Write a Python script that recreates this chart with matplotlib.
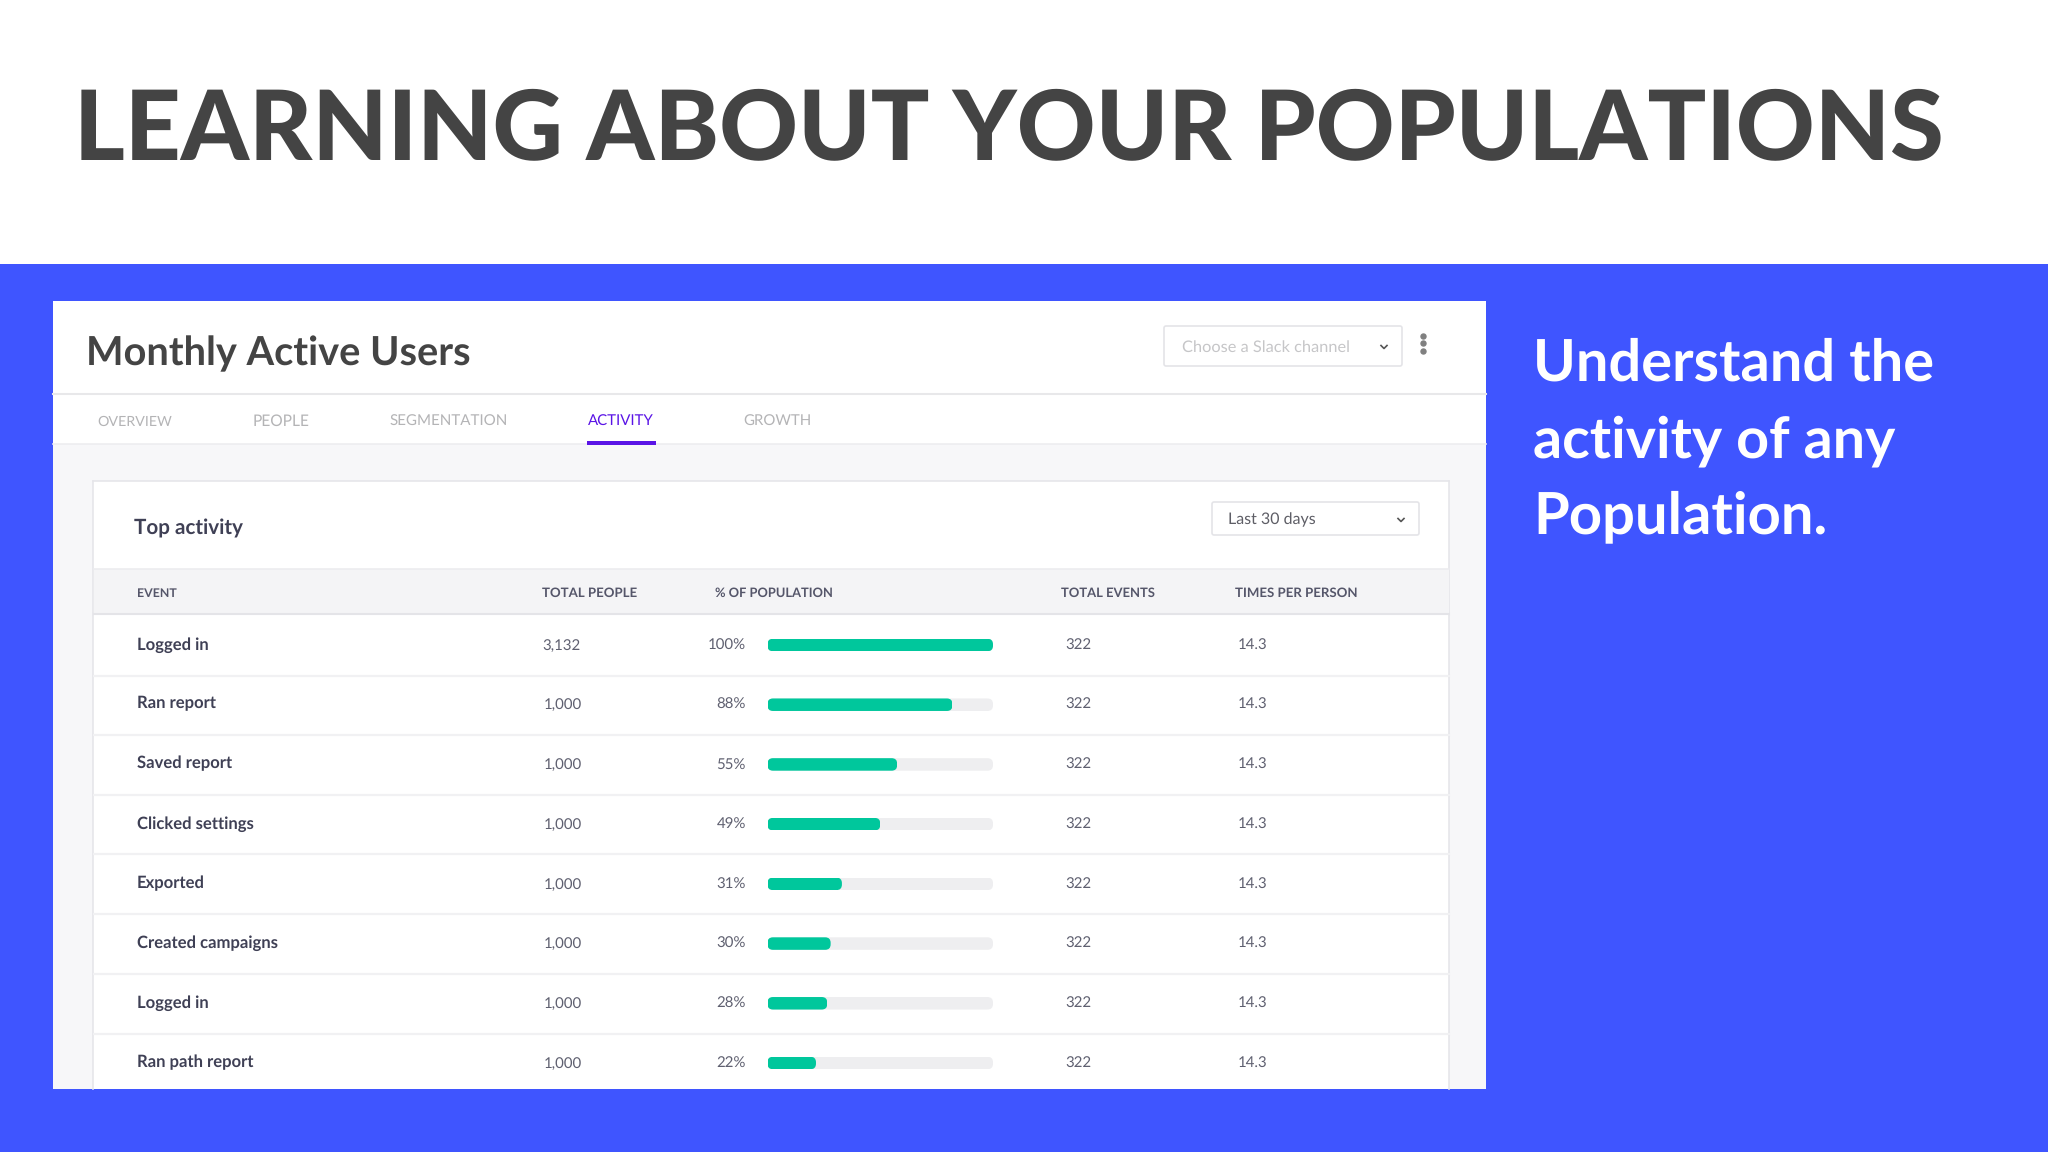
import matplotlib
matplotlib.use("Agg")
import matplotlib.pyplot as plt
from matplotlib.patches import Rectangle, FancyBboxPatch

# ---- data ----
events = ["Logged in", "Ran report", "Saved report", "Clicked settings", "Exported",
          "Created campaigns", "Logged in", "Ran path report"]
total_people = ["3,132", "1,000", "1,000", "1,000", "1,000", "1,000", "1,000", "1,000"]
pct_labels = ["100%", "88%", "55%", "49%", "31%", "30%", "28%", "22%"]
bar_lengths = [100, 82, 57.5, 50, 33, 28, 26.5, 21.5]
total_events = ["322"] * 8
times_per_person = ["14.3"] * 8
columns = ["EVENT", "TOTAL PEOPLE", "% OF POPULATION", "TOTAL EVENTS", "TIMES PER PERSON"]
tabs = ["OVERVIEW", "PEOPLE", "SEGMENTATION", "ACTIVITY", "GROWTH"]
side_lines = ["Understand the", "activity of any", "Population."]

plt.rcParams['font.family'] = ['Lato', 'DejaVu Sans']
plt.rcParams['text.hinting'] = 'no_hinting'
W, H = 2048, 1152
BLUE, TEAL, PURPLE = "#3F55FF", "#00C79C", "#5A14E6"
DARK, INK, MID = "#444444", "#3F4055", "#5F6070"

fig = plt.figure(figsize=(W / 100, H / 100), dpi=100, facecolor="white")
ui = fig.add_axes([0, 0, 1, 1])
ui.set_xlim(0, W); ui.set_ylim(H, 0); ui.axis("off")
renderer = fig.canvas.get_renderer()

def box(x0, y0, x1, y1, fc, ec="none", lw=0, z=1):
    ui.add_patch(Rectangle((x0, y0), x1 - x0, y1 - y0, fc=fc, ec=ec, lw=lw, zorder=z))

def rbox(x0, y0, x1, y1, fc="white", ec="#E4E4E8", lw=1.2, z=3):
    ui.add_patch(FancyBboxPatch((x0, y0), x1 - x0, y1 - y0, boxstyle="round,pad=0,rounding_size=2",
                                fc=fc, ec=ec, lw=lw, zorder=z))

def text(s, x0, x1, base, color, weight="normal", z=6):
    """Place text on a baseline and size it so it spans x0..x1."""
    t = ui.text(x0, base, s, color=color, fontweight=weight, fontsize=20,
                ha="left", va="baseline", zorder=z)
    w = t.get_window_extent(renderer).width
    t.set_fontsize(20 * (x1 - x0) / w)
    return t

def text_size(s, x, base, size_px, color, weight="normal", ha="left", z=6):
    return ui.text(x, base, s, color=color, fontweight=weight, fontsize=size_px * 0.72,
                   ha=ha, va="baseline", zorder=z)

def chevron(x, y, color="#555555"):
    ui.plot([x - 3, x, x + 3], [y - 1.5, y + 1.5, y - 1.5], color=color, lw=1.2, zorder=6)

# ---- slide ----
text("LEARNING ABOUT YOUR POPULATIONS", 74, 1943, 159, DARK, "black")
box(0, 264, W, H, BLUE)
for s, x1, base in zip(side_lines, [1934, 1895, 1827], [381, 457, 533]):
    text(s, 1533, x1, base, "white", "bold")

# ---- app panel ----
box(53, 301, 1486, 1089, "white", z=1)
box(53, 444, 1486, 1089, "#F7F7F9", z=1)
ui.plot([53, 1486], [394, 394], color="#E8E8EA", lw=1.5, zorder=2)
ui.plot([53, 1486], [444, 444], color="#EDEDF0", lw=1.2, zorder=2)
text("Monthly Active Users", 86, 470, 365, DARK, "bold")

rbox(1164, 326, 1402, 366)
text("Choose a Slack channel", 1182, 1350, 352, "#C6C6C8")
chevron(1384, 347)
ui.plot([1423] * 3, [336, 343, 351], ls="none", marker="o", ms=3.6, color="#808080", zorder=6)

tab_x = [(97, 172), (253, 310), (390, 508), (588, 654), (743, 811)]
for s, (x0, x1) in zip(tabs, tab_x):
    text(s, x0, x1, 426, PURPLE if s == "ACTIVITY" else "#B4B4B6")
box(587, 441, 656, 444.5, PURPLE, z=4)

# ---- card, running off the bottom of the panel ----
box(93, 481, 1449, 1089, "white", z=2)
for xs, ys in [([93, 1449], [481, 481]), ([93, 93], [481, 1089]), ([1449, 1449], [481, 1089])]:
    ui.plot(xs, ys, color="#E6E6EA", lw=1.2, zorder=2.5)
text("Top activity", 134, 243, 534, INK, "bold")
rbox(1212, 502, 1419, 535)
text("Last 30 days", 1228, 1316, 524, "#5E5E66")
chevron(1401, 520)

box(94, 569, 1449, 614, "#F4F4F6", z=3)
ui.plot([94, 1449], [569, 569], color="#ECECEF", lw=1.2, zorder=4)
ui.plot([94, 1449], [614, 614], color="#E4E4E8", lw=1.5, zorder=4)
col_x = [(137, 177), (542, 637), (715, 833), (1061, 1155), (1235, 1358)]
for s, (x0, x1) in zip(columns, col_x):
    text(s, x0, x1, 597, "#55566A", "bold")

rows_y = [644, 703, 763, 823, 883, 942, 1002, 1062]
lines_y = [676, 735, 795, 854, 914, 974, 1034]
for y in lines_y:
    ui.plot([94, 1449], [y, y], color="#F1F1F3", lw=1.6, zorder=4)

for i, y in enumerate(rows_y):
    b = y + 5.5
    text_size(events[i], 137, b, 16.6, INK, "bold")
    text_size(total_people[i], 542 if i == 0 else 544, b, 15, MID)
    text_size(pct_labels[i], 746, b, 15, MID, ha="right")
    text_size(total_events[i], 1065, b, 15, MID)
    text_size(times_per_person[i], 1238, b, 15, MID)

# ---- bars, x axis 0..100 spans the track ----
top, bot = 301, 1089
bx0, bx1 = 767.5, 993
ax = fig.add_axes([bx0 / W, 1 - bot / H, (bx1 - bx0) / W, (bot - top) / H], zorder=5)
ax.patch.set_alpha(0); ax.axis("off")
ax.set_xlim(0, 100)
rows = list(range(len(events)))
unit = (rows_y[-1] - rows_y[0]) / (len(rows) - 1)
ax.set_ylim(rows[0] + (bot - rows_y[0] - 1) / unit, rows[0] - (rows_y[0] + 1 - top) / unit)
px_x = (bx1 - bx0) / 100
bar_h = 12.5 / unit
track = ax.barh(rows, [100] * len(rows), height=bar_h, color="#EEEEF0", zorder=1)
fill = ax.barh(rows, bar_lengths, height=bar_h, color=TEAL, zorder=2)
for group in (track, fill):
    for r in group:
        clip = FancyBboxPatch((r.get_x(), r.get_y()), r.get_width(), r.get_height(),
                              boxstyle=f"round,pad=0,rounding_size={5.5 / px_x}",
                              mutation_aspect=px_x / unit, fc="none", ec="none")
        ax.add_patch(clip)
        r.set_clip_path(clip)

fig.savefig("out.png", dpi=100, facecolor="white")
